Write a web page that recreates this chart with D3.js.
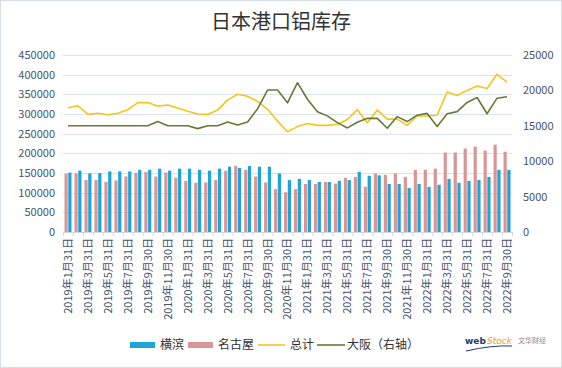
<!DOCTYPE html>
<html><head><meta charset="utf-8">
<script src="https://cdn.jsdelivr.net/npm/d3@7"></script>
<style>
html,body{margin:0;padding:0;background:#fff;}
svg{display:block;}
</style></head>
<body>
<svg id="chart" width="562" height="368"></svg>
<script>
const categories = [
"2019年1月31日","2019年2月28日","2019年3月31日","2019年4月30日","2019年5月31日","2019年6月30日",
"2019年7月31日","2019年8月31日","2019年9月30日","2019年10月31日","2019年11月30日","2019年12月31日",
"2020年1月31日","2020年2月29日","2020年3月31日","2020年4月30日","2020年5月31日","2020年6月30日",
"2020年7月31日","2020年8月31日","2020年9月30日","2020年10月31日","2020年11月30日","2020年12月31日",
"2021年1月31日","2021年2月28日","2021年3月31日","2021年4月30日","2021年5月31日","2021年6月30日",
"2021年7月31日","2021年8月31日","2021年9月30日","2021年10月31日","2021年11月30日","2021年12月31日",
"2022年1月31日","2022年2月28日","2022年3月31日","2022年4月30日","2022年5月31日","2022年6月30日",
"2022年7月31日","2022年8月31日","2022年9月30日"];

const yokohama = [151000,156000,149000,150000,154000,154000,154000,158000,158000,161000,156000,161000,
161000,158000,156000,161000,166000,163000,168000,166000,166000,149000,132000,135000,
132000,127000,127000,130000,132000,153000,143000,144000,122000,122000,112000,122000,
115000,120000,135000,125000,130000,132000,140000,158000,158000];

const nagoya = [148000,149000,132000,132000,127000,131000,141000,150000,153000,141000,151000,138000,
130000,125000,126000,132000,156000,168000,158000,141000,126000,109000,101000,109000,
122000,122000,127000,123000,138000,140000,115000,149000,145000,149000,140000,158000,
158000,161000,202000,202000,212000,217000,207000,222000,204000];

const total = [316000,321000,299000,302000,298000,302000,311000,329000,329000,320000,323000,315000,
307000,300000,299000,310000,336000,350000,345000,332000,312000,282000,255000,268000,
276000,271000,271000,274000,286000,311000,278000,310000,287000,287000,271000,295000,
295000,297000,356000,347000,360000,371000,365000,401000,381000];

const osaka = [15000,15000,15000,15000,15000,15000,15000,15000,15000,15600,15000,15000,
15000,14600,15000,15000,15550,15100,15550,17400,20050,20050,18250,21100,
18750,17000,16400,15450,14700,15500,16050,16050,14650,16300,15600,16500,
16750,14900,16700,17000,18300,19000,16700,18900,19100];

const leftTicks = [0,50000,100000,150000,200000,250000,300000,350000,400000,450000];
const rightTicks = [0,5000,10000,15000,20000,25000];
const title = "日本港口铝库存";
const seriesNames = ["横滨","名古屋","总计","大阪（右轴）"];

const C = {blue:"#1ea3db", pink:"#d99694", yellow:"#f5c518", green:"#667a35", axisText:"#44546a", grid:"#d9e2ee"};
const FONT = "'Noto Sans CJK SC','Noto Sans',sans-serif";

const svg = d3.select("#chart");
const L = 63, R = 512, T = 55, B = 232;

// border
svg.append("rect").attr("x",0.5).attr("y",0.5).attr("width",561).attr("height",367)
  .attr("fill","#fff").attr("stroke","#d5dde8").attr("stroke-width",1);

svg.append("text").attr("x",281).attr("y",29).attr("text-anchor","middle")
  .attr("font-family",FONT).attr("font-size",20).attr("fill","#333").text(title);

const x = d3.scaleBand().domain(categories).range([L,R]).padding(0);
const yL = d3.scaleLinear().domain([0,450000]).range([B,T]);
const yR = d3.scaleLinear().domain([0,25000]).range([B,T]);
const inner = d3.scaleBand().domain(["n","y"]).range([1.5, x.bandwidth()-1.5]).paddingInner(0.15);

// grid
svg.append("g").selectAll("line").data(leftTicks.slice(1)).join("line")
  .attr("x1",L).attr("x2",R).attr("y1",d=>Math.round(yL(d))+0.5).attr("y2",d=>Math.round(yL(d))+0.5)
  .attr("stroke",C.grid).attr("stroke-width",1);

// left axis
const gL = svg.append("g").attr("transform",`translate(${L},0)`)
  .call(d3.axisLeft(yL).tickValues(leftTicks).tickFormat(d3.format("d")).tickSize(0).tickPadding(8));
gL.select(".domain").remove();
gL.selectAll("text").attr("font-family",FONT).attr("font-size",11).attr("fill",C.axisText);

// right axis
const gR = svg.append("g").attr("transform",`translate(${R},0)`)
  .call(d3.axisRight(yR).tickValues(rightTicks).tickFormat(d3.format("d")).tickSize(0).tickPadding(11));
gR.select(".domain").remove();
gR.selectAll("text").attr("font-family",FONT).attr("font-size",11).attr("fill",C.axisText);

// bars
const gb = svg.append("g");
gb.selectAll(".pn").data(nagoya).join("rect")
  .attr("x",(d,i)=>x(categories[i])+inner("n")).attr("width",inner.bandwidth())
  .attr("y",d=>yL(d)).attr("height",d=>B-yL(d)).attr("fill",C.pink);
gb.selectAll(".py").data(yokohama).join("rect")
  .attr("x",(d,i)=>x(categories[i])+inner("y")).attr("width",inner.bandwidth())
  .attr("y",d=>yL(d)).attr("height",d=>B-yL(d)).attr("fill",C.blue);

// x axis
const gX = svg.append("g").attr("transform",`translate(0,${B})`)
  .call(d3.axisBottom(x).tickSize(0).tickFormat((d,i)=> i%2===0 ? d : ""));
gX.select(".domain").attr("stroke","#d0d7e2");
gX.selectAll(".tick text").attr("font-family",FONT).attr("font-size",11).attr("fill",C.axisText)
  .attr("transform","rotate(-90)").attr("text-anchor","end").attr("x",-6).attr("y",0).attr("dy","0.36em");
// boundary ticks
svg.append("g").selectAll("line").data(d3.range(categories.length+1)).join("line")
  .attr("x1",i=>L+i*x.step()+0.5).attr("x2",i=>L+i*x.step()+0.5)
  .attr("y1",B).attr("y2",B+4).attr("stroke","#d0d7e2");

// lines
const cx = i => x(categories[i]) + x.bandwidth()/2;
const lineL = d3.line().x((d,i)=>cx(i)).y(d=>yL(d));
const lineR = d3.line().x((d,i)=>cx(i)).y(d=>yR(d));
svg.append("path").datum(total).attr("d",lineL).attr("fill","none")
  .attr("stroke",C.yellow).attr("stroke-width",1.6).attr("stroke-linejoin","round");
svg.append("path").datum(osaka).attr("d",lineR).attr("fill","none")
  .attr("stroke",C.green).attr("stroke-width",1.6).attr("stroke-linejoin","round");

// legend
const lg = svg.append("g").attr("font-family",FONT).attr("font-size",12).attr("fill","#333");
const ly = 345;
lg.append("rect").attr("x",130).attr("y",ly-3).attr("width",25).attr("height",6).attr("fill",C.blue);
lg.append("text").attr("x",160).attr("y",ly).attr("dy","0.36em").text(seriesNames[0]);
lg.append("rect").attr("x",188).attr("y",ly-3).attr("width",25).attr("height",6).attr("fill",C.pink);
lg.append("text").attr("x",218).attr("y",ly).attr("dy","0.36em").text(seriesNames[1]);
lg.append("line").attr("x1",258).attr("x2",285).attr("y1",ly).attr("y2",ly).attr("stroke",C.yellow).attr("stroke-width",1.6);
lg.append("text").attr("x",290).attr("y",ly).attr("dy","0.36em").text(seriesNames[2]);
lg.append("line").attr("x1",317).attr("x2",345).attr("y1",ly).attr("y2",ly).attr("stroke",C.green).attr("stroke-width",1.6);
lg.append("text").attr("x",347).attr("y",ly).attr("dy","0.36em").text(seriesNames[3]);

// watermark
const wm = svg.append("g");
wm.append("text").attr("x",465).attr("y",344).attr("font-family","'DejaVu Sans',sans-serif")
  .attr("font-size",9).attr("font-weight","bold").attr("fill","#1f3a6e").text("web");
wm.append("text").attr("x",487).attr("y",344).attr("font-family","'DejaVu Sans',sans-serif")
  .attr("font-size",9).attr("font-style","italic").attr("fill","#f0a020").text("Stock");
wm.append("text").attr("x",518).attr("y",343).attr("font-family",FONT)
  .attr("font-size",7).attr("fill","#888").text("文华财经");
wm.append("path").attr("d","M466,351 Q492,345 512,346").attr("fill","none").attr("stroke","#1f3a6e").attr("stroke-width",1);
</script>
</body></html>
